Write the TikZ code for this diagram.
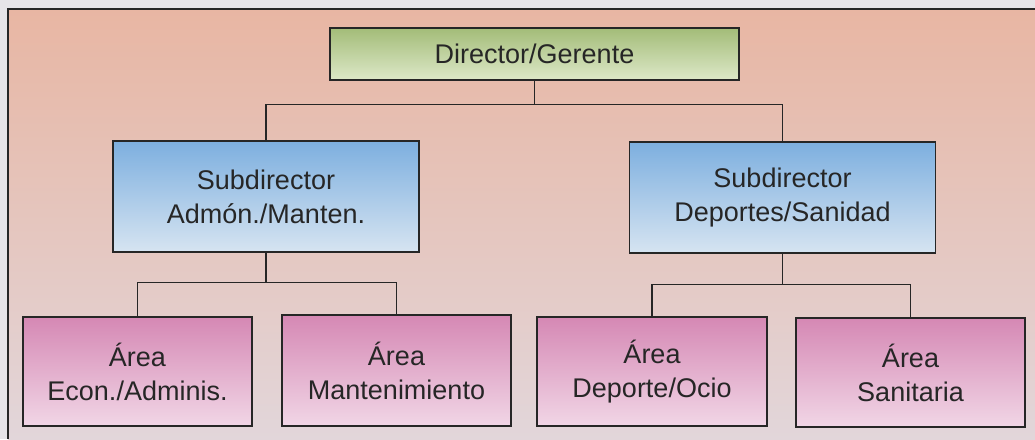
\documentclass[tikz,border=0pt]{standalone}
\usepackage{fontspec}
\setmainfont{Liberation Sans}
\usepackage{tikz}
\usetikzlibrary{positioning}
\definecolor{ink}{HTML}{262626}
\definecolor{paper}{HTML}{E6E4E8}
\definecolor{dirtop}{HTML}{A3BC78}
\definecolor{dirbot}{HTML}{DDE8C8}
\definecolor{subtop}{HTML}{7DAFDF}
\definecolor{subbot}{HTML}{D6E4F1}
\definecolor{areatop}{HTML}{D588B4}
\definecolor{areabot}{HTML}{F1D6E6}
\definecolor{bgtop}{HTML}{E8B6A3}
\definecolor{bgbot}{HTML}{E2D6DA}
\tikzset{
x=1pt, y=-1pt, % pixel units, y grows downwards
box/.style={draw=ink, line width=1.4pt, rectangle, align=center, text=ink,
  font=\fontsize{27}{34}\selectfont, inner sep=0pt}, % common look of every box
dirbox/.style={box, top color=dirtop, bottom color=dirbot,
  minimum width=409pt, minimum height=52pt}, % the director
subbox/.style={box, top color=subtop, bottom color=subbot,
  minimum width=306pt, minimum height=111pt}, % the two subdirectors
areabox/.style={box, top color=areatop, bottom color=areabot,
  minimum width=229pt, minimum height=109pt}, % the four areas
link/.style={draw=ink, line width=1.3pt}, % connecting lines
}

\begin{document}
\begin{tikzpicture}
        % page and background
        \useasboundingbox (0,0) rectangle (1035,439);
        \fill[paper] (0,0) rectangle (1035,439);
        \fill[top color=bgtop, bottom color=bgbot] (8,9) rectangle (1035,439);
        \draw[ink, line width=1.4pt] (8,439) -- (8,9) -- (1035,9);

        \node[dirbox] (dir) at (534.5,54) {Director/Gerente};
        \node[subbox] (subA) at (266,196.5) {Subdirector\\Admón./Manten.};
        \node[subbox] (subD) at (782.5,197.5) {Subdirector\\Deportes/Sanidad};
        \node[areabox] (econ) at (137.5,371.5) {Área\\Econ./Adminis.};
        \node[areabox, minimum height=111pt] (mant) at (396.5,370.5) {Área\\Mantenimiento};
        \node[areabox, minimum width=230pt] (dep) at (652,371.5) {Área\\Deporte/Ocio};
        \node[areabox] (san) at (910.5,372.5) {Área\\Sanitaria};


        \draw[link] (dir.south) -- ++(0,24) -| (subA.north)
        (dir.south) ++(0,24) -| (subD.north)
        (subA.south) -- ++(0,30) -| (econ.north)
        (subA.south) ++(0,30) -| (mant.north)
        (subD.south) -- ++(0,31) -| (dep.north)
        (subD.south) ++(0,31) -| (san.north);
      \end{tikzpicture}
\end{document}
